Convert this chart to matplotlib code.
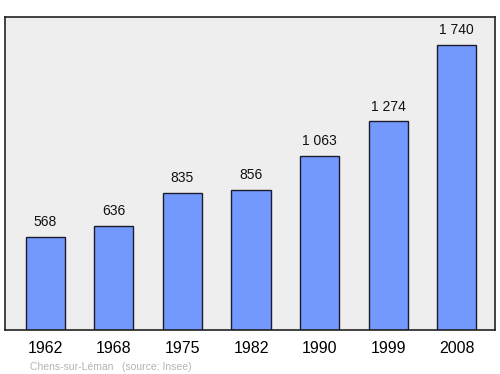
import matplotlib.pyplot as plt

years = ['1962', '1968', '1975', '1982', '1990', '1999', '2008']
population = [568, 636, 835, 856, 1063, 1274, 1740]
labels = ['568', '636', '835', '856', '1 063', '1 274', '1 740']

plt.rcParams['font.family'] = ['Liberation Sans', 'DejaVu Sans']

fig = plt.figure(figsize=(5, 3.74), dpi=100)
ax = fig.add_axes([0.01, 0.1176, 0.98, 0.837])
ax.set_facecolor('#eeeeee')

x = range(len(years))
ax.bar(x, population, width=0.57, color='#7399ff', edgecolor='#1c1c2a', linewidth=1)

for xi, v, lab in zip(x, population, labels):
    ax.text(xi, v + 48, lab, ha='center', va='bottom', fontsize=10, color='#111111')

ax.set_xlim(-0.59, 6.56)
ax.set_ylim(0, 1912)
ax.set_xticks(list(x))
ax.set_xticklabels(years, fontsize=11.5)
ax.tick_params(axis='x', length=0, pad=8)
ax.set_yticks([])
for s in ax.spines.values():
    s.set_color('#222222')
    s.set_linewidth(1.2)

fig.text(0.06, 0.012, 'Chens-sur-Léman   (source: Insee)', fontsize=7.5, color='#b4b4b4')

fig.savefig('out.png', dpi=100)
